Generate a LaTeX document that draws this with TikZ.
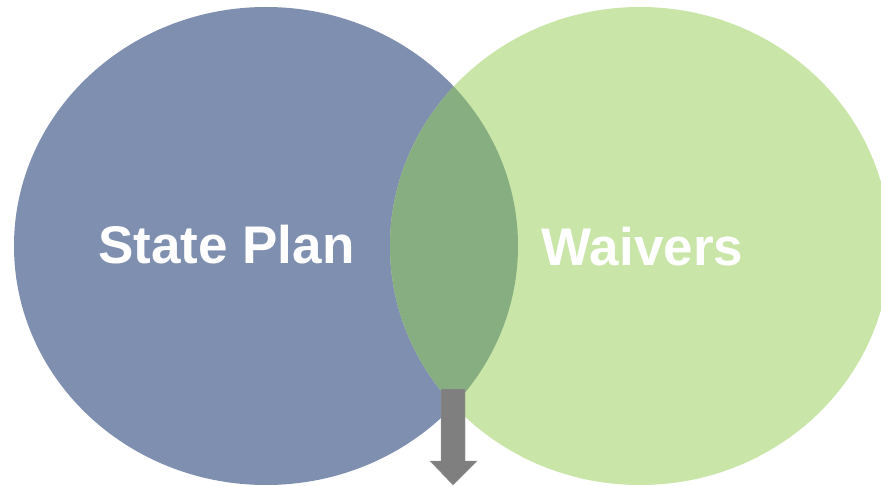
\documentclass[tikz,border=0pt]{standalone}
\usepackage{fontspec}
\setmainfont{Liberation Sans}
\definecolor{planblue}{HTML}{7F8FAF}
\definecolor{waivergreen}{HTML}{C9E5A7}
\definecolor{overlapgreen}{HTML}{87AE80}
\definecolor{arrowgray}{HTML}{7F7F7F}
\begin{document}
\begin{tikzpicture}[x=1pt,y=-1pt,line width=.35pt,font=\fontsize{53}{60}\selectfont\bfseries]
\useasboundingbox (0,0) rectangle (881,486);
\clip (0,0) rectangle (881,486);
\fill[planblue] (266,246) ellipse [x radius=252,y radius=239];
\fill[waivergreen] (640,246) ellipse [x radius=250,y radius=239];
\begin{scope}
\clip (266,246) ellipse [x radius=252,y radius=239];
\fill[overlapgreen] (640,246) ellipse [x radius=250,y radius=239];
\end{scope}
\fill[arrowgray,draw=gray!80] (441,389)--(465,389)--(465,461)--(477,461)--(453,485)--(430,461)--(441,461)--cycle;
\node[white,anchor=base,inner sep=0pt] (plan) at (226.5,264) {State Plan};
\node[white,anchor=base,inner sep=0pt] (waivers) at (642.5,266) {Waivers};
\end{tikzpicture}
\end{document}
